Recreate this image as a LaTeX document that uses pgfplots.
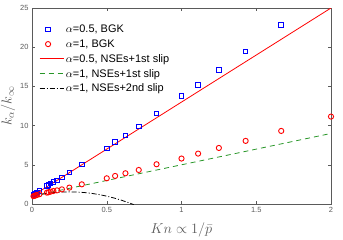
\documentclass[border=0pt]{standalone}
\usepackage{pgfplots}
\pgfplotsset{compat=1.18}
\usepackage{fontspec}
\setmainfont{Liberation Sans}
\definecolor{mgreen}{RGB}{40,150,40}
\definecolor{axgray}{RGB}{90,90,90}
\definecolor{mblue}{RGB}{0,0,255}
\pgfplotsset{longline/.style={legend image code/.code={\draw[##1] (0bp,0bp) -- (24bp,0bp);}}}
\begin{document}
\begin{tikzpicture}
\begin{axis}[
  at={(0,0)}, anchor=south west,
  scale only axis, width=299bp, height=196bp,
  xmin=0, xmax=2, ymin=0, ymax=25,
  xtick={0,0.5,1,1.5,2}, ytick={0,5,10,15,20,25},
  xticklabels={0,0.5,1,1.5,2},
  tick align=inside, major tick length=3bp,
  axis line style={axgray, line width=0.5pt},
  every tick/.style={axgray, line width=0.5pt},
  tick label style={font=\fontsize{7.5}{8}\selectfont, text=axgray},
  /pgf/number format/assume math mode=true,
  xlabel={$Kn\propto 1/\bar{p}$},
  ylabel={$k_\alpha/k_\infty$},
  label style={font=\fontsize{14}{16}\selectfont, text=axgray},
  xlabel style={yshift=-3bp},
  ylabel style={yshift=-2bp},
  legend style={draw=none, fill=none, at={(0.02,0.93)}, anchor=north west,
    font=\fontsize{11}{12}\selectfont, row sep=1.5pt, inner sep=1pt},
  legend cell align=left,
]
\addplot[mblue, only marks, mark=square, mark size=2.3bp, mark options={draw=mblue, fill=none, line width=1bp}] coordinates {
(0.01,1.15) (0.0167,1.25) (0.025,1.35) (0.033,1.45) (0.05,1.65)
(0.1,2.28) (0.111,2.45) (0.125,2.6) (0.143,2.8) (0.167,3.0) (0.2,3.4) (0.25,4.0)
(0.333,5.06) (0.5,7.1) (0.556,7.88) (0.625,8.75) (0.714,9.87) (0.833,11.53)
(1,13.8) (1.111,15.2) (1.25,17.07) (1.429,19.45) (1.667,22.8)
};
\addlegendentry{$\alpha$=0.5, BGK}
\addplot[red, only marks, mark=o, mark size=2.6bp, mark options={draw=red, fill=none, line width=0.9pt}] coordinates {
(0.01,1.0) (0.0167,1.05) (0.025,1.1) (0.033,1.15) (0.05,1.25)
(0.1,1.45) (0.111,1.5) (0.125,1.58) (0.143,1.66) (0.167,1.74) (0.2,1.87) (0.25,2.09)
(0.333,2.51) (0.5,3.28) (0.556,3.58) (0.625,3.92) (0.714,4.34) (0.833,5.07)
(1,5.8) (1.111,6.43) (1.25,7.15) (1.429,8.05) (1.667,9.32) (2,11.15)
};
\addlegendentry{$\alpha$=1, BGK}
\addplot[red, line width=0.8pt, no marks, longline] coordinates {
(0,1) (2,25)
};
\addlegendentry{$\alpha$=0.5, NSEs+1st slip}
\addplot[mgreen, line width=0.8pt, no marks, dash pattern=on 5bp off 4bp, longline] coordinates {
(0,1) (2,9)
};
\addlegendentry{$\alpha$=1, NSEs+1st slip}
\addplot[black, line width=0.8pt, no marks, dash pattern=on 5bp off 2bp on 1bp off 2bp, longline] coordinates {
(0,1) (0.05,1.198) (0.1,1.352) (0.15,1.462) (0.2,1.528) (0.25,1.55) (0.3,1.528)
(0.35,1.462) (0.4,1.352) (0.45,1.198) (0.5,1.0) (0.55,0.758) (0.6,0.472)
(0.65,0.142) (0.68,-0.077)
};
\addlegendentry{$\alpha$=1, NSEs+2nd slip}
\end{axis}
\pgfresetboundingbox
\path (-32bp,-36bp) rectangle (311bp,204bp);
\end{tikzpicture}
\end{document}
